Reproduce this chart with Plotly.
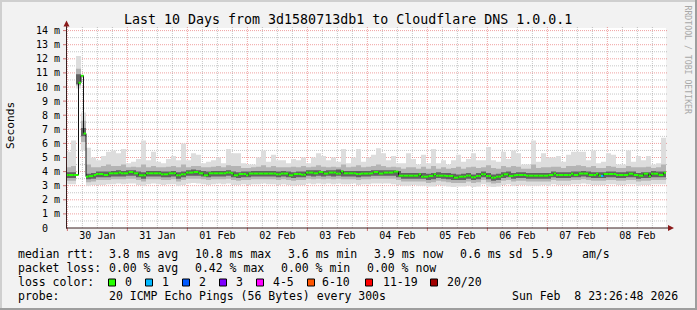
import plotly.graph_objects as go
from datetime import datetime, timedelta

# ---------------- data ----------------
start_time = datetime(2026, 1, 29, 23, 26, 48)
end_time = datetime(2026, 2, 8, 23, 26, 48)

# median rtt (ms), one value per hour (240 values)
median_ms = [
    3.76, 3.76, 3.76, 3.76, 3.76, 10.3, 10.8, 6.7, 3.64, 3.68,
    3.68, 3.76, 3.83, 3.83, 3.83, 3.76, 3.76, 3.88, 3.88, 3.88,
    3.88, 3.93, 3.88, 3.88, 3.88, 3.97, 3.97, 3.88, 3.88, 3.74,
    3.74, 3.74, 3.88, 3.88, 3.88, 3.88, 3.88, 3.88, 3.81, 3.81,
    3.81, 3.88, 3.88, 3.88, 3.74, 3.74, 3.81, 3.81, 3.93, 3.93,
    3.93, 3.97, 3.97, 3.88, 3.88, 3.74, 3.74, 3.88, 3.88, 3.88,
    3.88, 3.88, 3.88, 3.88, 3.93, 3.93, 3.88, 3.74, 3.74, 3.83,
    3.83, 3.83, 3.74, 3.86, 3.86, 3.86, 3.86, 3.86, 3.86, 3.86,
    3.86, 3.86, 3.86, 3.86, 3.81, 3.81, 3.86, 3.86, 3.86, 3.74,
    3.74, 3.83, 3.83, 3.83, 3.78, 3.78, 3.93, 3.93, 3.93, 3.88,
    3.88, 3.97, 3.97, 3.86, 3.86, 3.93, 3.93, 3.93, 3.86, 3.86,
    4.02, 3.88, 3.88, 3.88, 3.88, 3.88, 3.83, 3.83, 3.86, 3.86,
    3.86, 3.86, 3.88, 3.97, 3.97, 3.86, 3.86, 3.93, 3.93, 3.93,
    3.93, 4.00, 4.00, 3.71, 3.71, 3.71, 3.71, 3.71, 3.71, 3.71,
    3.71, 3.81, 3.64, 3.64, 3.64, 3.69, 3.69, 3.81, 3.71, 3.71,
    3.71, 3.71, 3.69, 3.69, 3.69, 3.57, 3.57, 3.64, 3.64, 3.64,
    3.71, 3.71, 3.60, 3.60, 3.69, 3.69, 3.81, 3.81, 3.69, 3.69,
    3.57, 3.57, 3.64, 3.64, 3.71, 3.81, 3.81, 3.69, 3.69, 3.74,
    3.76, 3.76, 3.76, 3.76, 3.71, 3.71, 3.71, 3.71, 3.71, 3.71,
    3.71, 3.71, 3.71, 3.76, 3.76, 3.86, 3.76, 3.76, 3.76, 3.76,
    3.76, 3.76, 3.85, 3.76, 3.76, 3.86, 3.86, 3.86, 3.86, 3.76,
    3.76, 3.76, 3.85, 3.71, 3.69, 3.83, 3.83, 3.83, 3.83, 3.83,
    3.76, 3.76, 3.76, 3.76, 3.76, 3.85, 3.85, 3.76, 3.76, 3.71,
    3.71, 3.85, 3.85, 3.67, 3.85, 3.85, 3.85, 3.76, 3.76, 3.92,
]

# lost pings (out of 20) per hour
loss_pings = [
    0, 0, 0, 0, 0, 0, 0, 0, 0, 0, 0, 0, 0, 0, 0, 0, 0, 0, 0, 0,
    0, 0, 0, 0, 0, 0, 0, 0, 0, 0, 0, 0, 0, 0, 0, 0, 0, 0, 0, 0,
    0, 0, 0, 0, 0, 0, 0, 0, 0, 0, 0, 0, 0, 0, 0, 0, 0, 0, 0, 0,
    0, 0, 0, 0, 0, 0, 0, 0, 0, 0, 0, 0, 0, 0, 0, 0, 0, 0, 0, 0,
    0, 0, 0, 0, 0, 0, 0, 0, 0, 0, 0, 0, 0, 0, 0, 0, 0, 0, 0, 0,
    0, 0, 0, 0, 0, 0, 0, 0, 0, 0, 0, 0, 0, 0, 0, 0, 0, 0, 0, 0,
    0, 0, 0, 0, 0, 0, 0, 0, 0, 0, 0, 0, 0, 0, 0, 0, 0, 0, 0, 0,
    0, 0, 0, 0, 0, 0, 0, 0, 0, 0, 0, 0, 0, 0, 0, 0, 0, 0, 0, 0,
    0, 0, 0, 0, 0, 0, 0, 0, 0, 0, 0, 0, 0, 0, 0, 0, 0, 0, 0, 0,
    0, 0, 0, 0, 0, 0, 0, 0, 0, 0, 0, 0, 0, 0, 0, 0, 0, 0, 0, 0,
    0, 0, 0, 0, 0, 0, 0, 0, 0, 0, 0, 0, 0, 0, 1, 0, 0, 0, 0, 0,
    0, 0, 0, 0, 0, 0, 0, 0, 0, 0, 0, 0, 0, 0, 0, 0, 0, 0, 0, 0,
]

# smoke: sorted ping ranks (ms), one value per 2 hours (120 values)
ping_max = [
    5.4, 6.2, 12.2, 8.2, 5.7, 5.0, 4.8, 5.1, 5.4, 5.5,
    5.3, 5.6, 4.6, 4.7, 4.9, 6.2, 4.8, 5.4, 4.7, 4.6,
    4.9, 5.1, 4.8, 6.0, 4.8, 5.3, 5.2, 4.6, 4.7, 4.8,
    5.0, 4.6, 5.6, 5.3, 5.3, 4.6, 4.5, 4.5, 5.0, 5.5,
    4.7, 5.2, 4.8, 4.8, 4.6, 4.9, 4.8, 5.0, 4.6, 5.0,
    5.3, 5.1, 4.8, 5.0, 4.7, 5.6, 4.6, 5.0, 5.6, 4.7,
    5.0, 5.2, 5.65, 5.3, 4.8, 5.1, 4.6, 4.6, 5.3, 4.9,
    4.5, 5.2, 4.6, 5.6, 4.6, 4.8, 4.5, 4.8, 5.2, 4.7,
    4.9, 5.3, 4.8, 4.8, 5.75, 4.8, 4.7, 5.4, 4.9, 5.5,
    5.3, 4.5, 4.5, 6.2, 4.7, 5.3, 5.0, 5.0, 5.1, 4.7,
    5.2, 5.4, 5.4, 5.4, 4.8, 5.5, 4.6, 4.7, 5.3, 5.2,
    4.5, 4.5, 5.5, 4.7, 5.1, 4.8, 5.1, 4.5, 4.6, 6.4,
]
ping_hi2 = [
    4.3, 4.4, 11.3, 7.6, 4.5, 4.3, 4.3, 4.4, 4.5, 4.4,
    4.4, 4.5, 4.3, 4.35, 4.3, 4.5, 4.3, 4.4, 4.3, 4.3,
    4.35, 4.4, 4.3, 4.5, 4.3, 4.4, 4.4, 4.3, 4.3, 4.35,
    4.4, 4.3, 4.45, 4.4, 4.4, 4.25, 4.25, 4.3, 4.35, 4.45,
    4.3, 4.4, 4.3, 4.3, 4.3, 4.35, 4.3, 4.4, 4.3, 4.35,
    4.45, 4.35, 4.3, 4.35, 4.3, 4.5, 4.3, 4.35, 4.45, 4.3,
    4.35, 4.4, 4.5, 4.4, 4.3, 4.35, 4.3, 4.2, 4.3, 4.3,
    4.2, 4.35, 4.2, 4.4, 4.2, 4.3, 4.2, 4.25, 4.35, 4.2,
    4.3, 4.35, 4.25, 4.3, 4.45, 4.25, 4.2, 4.4, 4.3, 4.4,
    4.35, 4.2, 4.2, 4.5, 4.25, 4.3, 4.3, 4.35, 4.35, 4.25,
    4.4, 4.4, 4.45, 4.4, 4.3, 4.4, 4.25, 4.25, 4.4, 4.35,
    4.25, 4.25, 4.4, 4.3, 4.3, 4.3, 4.35, 4.25, 4.3, 4.5,
]
ping_hi3 = [
    3.95, 3.95, 10.9, 7.1, 3.85, 3.9, 4.0, 4.0, 4.0, 4.05,
    4.1, 4.05, 4.1, 4.1, 4.0, 3.95, 4.05, 4.05, 4.05, 4.0,
    4.0, 4.05, 3.95, 4.0, 4.1, 4.15, 4.1, 4.05, 4.0, 4.05,
    4.05, 4.05, 4.1, 4.0, 3.95, 4.0, 4.0, 4.05, 4.05, 4.05,
    4.05, 4.05, 4.0, 4.05, 4.0, 3.95, 4.0, 4.0, 4.1, 4.1,
    4.1, 4.05, 4.1, 4.1, 4.15, 4.05, 4.05, 4.05, 4.05, 4.05,
    4.05, 4.1, 4.1, 4.1, 4.1, 4.1, 4.05, 3.9, 3.9, 3.9,
    3.9, 3.9, 3.85, 3.9, 3.95, 3.9, 3.9, 3.85, 3.8, 3.85,
    3.9, 3.8, 3.9, 4.0, 3.9, 3.8, 3.85, 3.95, 4.0, 3.9,
    3.95, 3.95, 3.9, 3.9, 3.9, 3.9, 3.9, 4.0, 3.95, 3.95,
    3.95, 4.0, 4.0, 4.05, 4.0, 3.95, 3.95, 3.95, 4.0, 4.0,
    3.95, 3.95, 4.0, 4.0, 3.9, 3.95, 3.95, 4.05, 4.0, 4.0,
]
ping_lo3 = [
    3.55, 3.55, 10.2, 6.5, 3.45, 3.5, 3.6, 3.6, 3.6, 3.65,
    3.65, 3.65, 3.7, 3.7, 3.6, 3.5, 3.65, 3.65, 3.65, 3.6,
    3.6, 3.65, 3.5, 3.6, 3.7, 3.7, 3.7, 3.65, 3.6, 3.65,
    3.65, 3.65, 3.7, 3.6, 3.55, 3.6, 3.6, 3.65, 3.65, 3.65,
    3.65, 3.65, 3.6, 3.65, 3.6, 3.55, 3.6, 3.6, 3.7, 3.65,
    3.7, 3.65, 3.7, 3.65, 3.7, 3.65, 3.65, 3.65, 3.6, 3.65,
    3.65, 3.7, 3.7, 3.7, 3.7, 3.7, 3.6, 3.5, 3.5, 3.5,
    3.5, 3.5, 3.4, 3.45, 3.55, 3.5, 3.45, 3.4, 3.4, 3.4,
    3.5, 3.4, 3.45, 3.6, 3.45, 3.35, 3.4, 3.55, 3.6, 3.5,
    3.55, 3.55, 3.5, 3.5, 3.5, 3.5, 3.5, 3.6, 3.55, 3.55,
    3.55, 3.6, 3.6, 3.65, 3.6, 3.55, 3.55, 3.55, 3.6, 3.6,
    3.55, 3.55, 3.6, 3.6, 3.5, 3.55, 3.55, 3.6, 3.6, 3.6,
]
ping_lo2 = [
    3.35, 3.35, 10.1, 6.1, 3.25, 3.3, 3.4, 3.4, 3.4, 3.45,
    3.45, 3.45, 3.5, 3.5, 3.4, 3.3, 3.45, 3.45, 3.45, 3.4,
    3.4, 3.45, 3.3, 3.4, 3.5, 3.5, 3.5, 3.45, 3.4, 3.45,
    3.45, 3.45, 3.5, 3.4, 3.35, 3.4, 3.4, 3.45, 3.45, 3.45,
    3.45, 3.45, 3.4, 3.45, 3.4, 3.35, 3.4, 3.4, 3.5, 3.45,
    3.5, 3.45, 3.5, 3.45, 3.5, 3.45, 3.45, 3.45, 3.4, 3.45,
    3.45, 3.5, 3.5, 3.5, 3.5, 3.5, 3.4, 3.3, 3.3, 3.3,
    3.3, 3.3, 3.2, 3.25, 3.35, 3.3, 3.25, 3.2, 3.2, 3.2,
    3.3, 3.2, 3.25, 3.4, 3.25, 3.15, 3.2, 3.35, 3.4, 3.3,
    3.35, 3.35, 3.3, 3.3, 3.3, 3.3, 3.3, 3.4, 3.35, 3.35,
    3.35, 3.4, 3.4, 3.45, 3.4, 3.35, 3.35, 3.35, 3.4, 3.4,
    3.35, 3.35, 3.4, 3.4, 3.3, 3.35, 3.35, 3.4, 3.4, 3.4,
]
ping_min = [
    3.1, 3.1, 9.9, 5.5, 3.0, 3.05, 3.05, 3.05, 3.1, 3.1,
    3.15, 3.1, 3.15, 3.15, 3.05, 3.0, 3.1, 3.15, 3.1, 3.05,
    3.1, 3.1, 3.0, 3.05, 3.15, 3.2, 3.15, 3.1, 3.05, 3.1,
    3.15, 3.1, 3.15, 3.05, 3.05, 3.1, 3.05, 3.1, 3.1, 3.15,
    3.1, 3.1, 3.05, 3.1, 3.05, 3.0, 3.05, 3.05, 3.15, 3.1,
    3.15, 3.1, 3.15, 3.1, 3.15, 3.1, 3.1, 3.15, 3.05, 3.1,
    3.1, 3.15, 3.15, 3.15, 3.15, 3.1, 3.05, 3.0, 3.0, 3.05,
    3.0, 3.0, 2.95, 2.95, 3.05, 3.0, 2.95, 2.9, 2.95, 2.95,
    3.0, 2.9, 2.95, 3.1, 2.95, 2.9, 2.95, 3.05, 3.1, 3.0,
    3.05, 3.05, 3.0, 3.0, 3.0, 3.05, 3.0, 3.1, 3.05, 3.05,
    3.05, 3.1, 3.1, 3.15, 3.1, 3.05, 3.05, 3.05, 3.1, 3.1,
    3.05, 3.05, 3.1, 3.1, 3.0, 3.05, 3.05, 3.1, 3.1, 3.1,
]

day_labels = ["30 Jan", "31 Jan", "01 Feb", "02 Feb", "03 Feb",
              "04 Feb", "05 Feb", "06 Feb", "07 Feb", "08 Feb"]
y_tick_values = list(range(15))
y_tick_labels = ["0\u00a0\u00a0"] + ["%d m" % v for v in range(1, 15)]

title_text = "Last 10 Days from 3d1580713db1 to Cloudflare DNS 1.0.0.1"
y_title = "Seconds"
side_text = "RRDTOOL / TOBI OETIKER"
median_head = "median rtt:"
median_stats = ["3.8 ms avg", "10.8 ms max", "3.6 ms min", "3.9 ms now", "0.6 ms sd", "5.9", "am/s"]
loss_head = "packet loss:"
loss_stats = ["0.00 % avg", "0.42 % max", "0.00 % min", "0.00 % now"]
color_head = "loss color:"
loss_labels = ["0", "1", "2", "3", "4-5", "6-10", "11-19", "20/20"]
probe_head = "probe:"
probe_text = "20 ICMP Echo Pings (56 Bytes) every 300s"
stamp_text = "Sun Feb\u00a0\u00a08 23:26:48 2026"

# ---------------- styling / layout ----------------
MONO = "DejaVu Sans Mono"
W, H = 697, 310
L, R, T, B = 66, 31, 28, 82
PW, PH = W - L - R, H - T - B
PX_PER_MS = 14.1
LEG_FS = 11.5
loss_colors = ["#26ff00", "#00b8ff", "#0059ff", "#7e00ff", "#ff00ff", "#ff5500", "#ff0000", "#a10000"]


def xp(px):
    return (px - L) / PW


def yp(py):
    return (H - B - py) / PH


hour_edges = [start_time + timedelta(hours=j) for j in range(len(median_ms) + 1)]
bin_edges = [start_time + timedelta(hours=2 * k) for k in range(len(ping_max) + 1)]

fig = go.Figure()

layers = [(ping_min, ping_max, "#dddddd"),
          (ping_lo2, ping_hi2, "#b4b4b4"),
          (ping_lo3, ping_hi3, "#626262")]
for lo, hi, col in layers:
    fig.add_trace(go.Scatter(x=bin_edges, y=lo + lo[-1:], mode="lines",
                             line=dict(width=0, shape="hv"), hoverinfo="skip", showlegend=False))
    fig.add_trace(go.Scatter(x=bin_edges, y=hi + hi[-1:], mode="lines",
                             line=dict(width=0, shape="hv"), fill="tonexty", fillcolor=col,
                             hoverinfo="skip", showlegend=False))

# thin dark median step line (shows the vertical jumps)
fig.add_trace(go.Scatter(x=hour_edges, y=median_ms + median_ms[-1:], mode="lines",
                         line=dict(width=1, color="#111111", shape="hv"),
                         hoverinfo="skip", showlegend=False))

# coloured median segments by loss
loss_bucket = {0: 0, 1: 1, 2: 2, 3: 3, 4: 4, 5: 4}
for ci, col in enumerate(loss_colors):
    xs, ys = [], []
    for j, (m, lp) in enumerate(zip(median_ms, loss_pings)):
        b = loss_bucket.get(lp, 5 if lp <= 10 else (6 if lp < 20 else 7))
        if b == ci:
            xs += [hour_edges[j], hour_edges[j + 1], None]
            ys += [m, m, None]
    if xs:
        fig.add_trace(go.Scatter(x=xs, y=ys, mode="lines", line=dict(width=2, color=col),
                                 hoverinfo="skip", showlegend=False))

shapes = []
MAJ = "rgba(222,48,48,0.45)"
MIN = "rgba(130,130,130,0.45)"
DOT = "1px,1px"
# vertical grid
t = datetime(start_time.year, start_time.month, start_time.day) + timedelta(hours=6)
while t < end_time:
    if t > start_time:
        major = (t.hour == 0)
        shapes.append(dict(type="line", xref="x", yref="paper", x0=t, x1=t, y0=0, y1=yp(T - 1),
                           line=dict(color=MAJ if major else MIN, width=1, dash=DOT), layer="below"))
        if major:
            shapes.append(dict(type="line", xref="x", yref="paper", x0=t, x1=t, y0=yp(228), y1=yp(231),
                               line=dict(color="#d07070", width=1), layer="above"))
    t += timedelta(hours=6)
# horizontal grid
for i in range(1, 29):
    v = i * 0.5
    major = (i % 2 == 0)
    shapes.append(dict(type="line", xref="paper", yref="y", x0=0, x1=xp(668), y0=v, y1=v,
                       line=dict(color=MAJ if major else MIN, width=1, dash=DOT), layer="below"))
    if major:
        shapes.append(dict(type="line", xref="paper", yref="y", x0=xp(63), x1=xp(66), y0=v, y1=v,
                           line=dict(color="#d07070", width=1), layer="above"))

AX = "#3a2020"
ARR = "#8b1a1a"
shapes.append(dict(type="line", xref="paper", yref="paper", x0=xp(66), x1=xp(669), y0=yp(228), y1=yp(228),
                   line=dict(color=AX, width=1)))
shapes.append(dict(type="line", xref="paper", yref="paper", x0=xp(66.5), x1=xp(66.5), y0=yp(228.5), y1=yp(24),
                   line=dict(color=AX, width=1)))
shapes.append(dict(type="path", xref="paper", yref="paper",
                   path="M %f,%f L %f,%f L %f,%f Z" % (xp(674), yp(228), xp(668), yp(225), xp(668), yp(231)),
                   fillcolor=ARR, line=dict(color=ARR, width=0)))
shapes.append(dict(type="path", xref="paper", yref="paper",
                   path="M %f,%f L %f,%f L %f,%f Z" % (xp(66.5), yp(20.5), xp(63.5), yp(26.5), xp(69.5), yp(26.5)),
                   fillcolor=ARR, line=dict(color=ARR, width=0)))


# frame
def rect(x0, y0, x1, y1, col):
    return dict(type="rect", xref="paper", yref="paper", x0=xp(x0), x1=xp(x1), y0=yp(y1), y1=yp(y0),
                fillcolor=col, line=dict(width=0), layer="above")


shapes.append(rect(0, 0, W, 2, "#cfcfcf"))
shapes.append(rect(0, 0, 2, H, "#cfcfcf"))
shapes.append(rect(0, H - 2, W, H, "#9e9e9e"))
shapes.append(rect(W - 2, 0, W, H, "#9e9e9e"))

# loss colour boxes
box_x = [108.5, 145.5, 182.5, 219.5, 256.5, 307.5, 365.5, 430.5]
for bx, col in zip(box_x, loss_colors):
    shapes.append(dict(type="rect", xref="paper", yref="paper", x0=xp(bx), x1=xp(bx + 7),
                       y0=yp(286), y1=yp(279), fillcolor=col, line=dict(color="#000000", width=1)))

ann = []


def text(s, x, y, size=LEG_FS, anchor="left", color="#000000", angle=0, family=MONO):
    ann.append(dict(text=s, x=xp(x), y=yp(y), xref="paper", yref="paper", showarrow=False,
                    xanchor=anchor, yanchor="middle", textangle=angle,
                    font=dict(family=family, size=size, color=color)))


text(title_text, 348, 19, size=13.3, anchor="center")
text(y_title, 10, 126, size=11.2, anchor="center", angle=-90)
text(side_text, 687.5, 60, size=8.2, anchor="center", angle=90, color="#a8a8a8")

row1_x = [107.3, 193.3, 286, 372.3, 458.3, 530, 580]
row2_x = [107.3, 193.3, 279, 365]
label_x = [123, 160, 196.7, 234, 270.7, 320, 380.7, 445.3]
text(median_head, 16, 254.3)
for s, x in zip(median_stats, row1_x):
    text(s, x, 254.3)
text(loss_head, 16, 268.3)
for s, x in zip(loss_stats, row2_x):
    text(s, x, 268.3)
text(color_head, 16, 282.3)
for s, x in zip(loss_labels, label_x):
    text(s, x, 282.3)
text(probe_head, 16, 296)
text(probe_text, 107.3, 296)
text(stamp_text, 680, 296, anchor="right")

noon_ticks = [datetime(2026, 1, 30, 12) + timedelta(days=d) for d in range(len(day_labels))]

fig.update_layout(
    width=W, height=H,
    margin=dict(l=L, r=R, t=T, b=B, pad=0),
    paper_bgcolor="#f2f2f2", plot_bgcolor="#ffffff",
    showlegend=False, shapes=shapes, annotations=ann,
    hovermode=False,
)
fig.update_xaxes(type="date", range=[start_time, end_time], showgrid=False, zeroline=False,
                 showline=False, tickmode="array", tickvals=noon_ticks, ticktext=day_labels,
                 ticks="", tickfont=dict(family=MONO, size=10, color="#000000"))
fig.update_yaxes(range=[0, PH / PX_PER_MS], showgrid=False, zeroline=False, showline=False,
                 tickmode="array", tickvals=y_tick_values, ticktext=y_tick_labels,
                 ticks="", ticklabelstandoff=5,
                 tickfont=dict(family=MONO, size=10, color="#000000"))

fig.write_html("out.html", include_plotlyjs=True, config={"displayModeBar": False})
